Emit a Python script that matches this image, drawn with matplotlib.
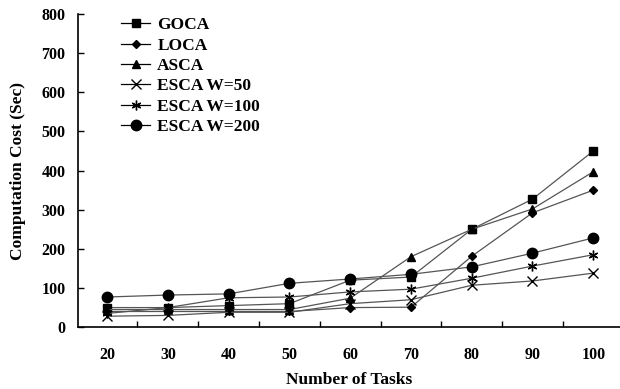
import matplotlib.pyplot as plt
import numpy as np

tasks = ['20', '30', '40', '50', '60', '70', '80', '90', '100']
goca = [50, 50, 55, 60, 120, 128, 250, 327, 450]
loca = [40, 40, 40, 40, 50, 51, 181, 292, 350]
asca = [45, 45, 45, 45, 74, 180, 250, 302, 397]
esca_50 = [28, 30, 38, 38, 60, 70, 107, 118, 138]
esca_100 = [35, 50, 75, 77, 90, 97, 125, 156, 185]
esca_200 = [77, 82, 85, 112, 123, 135, 154, 189, 228]

plt.rcParams['font.family'] = ['Liberation Serif', 'DejaVu Serif']
plt.rcParams['font.weight'] = 'bold'

fig = plt.figure(figsize=(6.2, 3.89), dpi=100)
ax = fig.add_axes([0.126, 0.159, 0.874, 0.805])

x = np.arange(len(tasks))
line_kw = dict(color='#555555', lw=0.9, markerfacecolor='black', markeredgecolor='black')
ax.plot(x, goca, marker='s', ms=5.5, label='GOCA', **line_kw)
ax.plot(x, loca, marker='D', ms=4.2, label='LOCA', **line_kw)
ax.plot(x, asca, marker='^', ms=6, label='ASCA', **line_kw)
ax.plot(x, esca_50, marker='x', ms=7.5, mew=1.0, label='ESCA W=50', **line_kw)
ax.plot(x, esca_100, marker=(6, 2, 0), ms=7, mew=1.0, label='ESCA W=100', **line_kw)
ax.plot(x, esca_200, marker='o', ms=7.5, label='ESCA W=200', **line_kw)

ax.set_xlim(-0.477, 8.44)
ax.set_ylim(0, 800)
ax.set_xticks(x)
ax.set_xticklabels(tasks)
ax.set_xticks(np.arange(0.5, 8, 1), minor=True)
ax.tick_params(axis='x', which='major', length=0, pad=14, labelsize=11.5)
ax.tick_params(axis='x', which='minor', direction='in', length=4, width=1)
ax.set_yticks(range(0, 801, 100))
ax.tick_params(axis='y', direction='in', length=4, width=1, labelsize=11.5, pad=9)
for lbl in ax.get_xticklabels() + ax.get_yticklabels():
    lbl.set_fontweight('bold')
ax.spines['top'].set_visible(False)
ax.spines['right'].set_visible(False)
ax.spines['left'].set_linewidth(1.2)
ax.spines['bottom'].set_linewidth(1.2)

ax.set_xlabel('Number of Tasks', fontsize=12.5, fontweight='bold', labelpad=7)
ax.set_ylabel('Computation Cost (Sec)', fontsize=12.5, fontweight='bold', labelpad=11)

leg = ax.legend(loc='upper left', bbox_to_anchor=(0.066, 1.012), frameon=False,
                prop={'size': 12.5, 'weight': 'bold'}, handlelength=1.7,
                handletextpad=0.4, labelspacing=0.24, borderaxespad=0)
for h in leg.get_lines():
    h.set_color('black')

fig.savefig('out.png', dpi=100)
